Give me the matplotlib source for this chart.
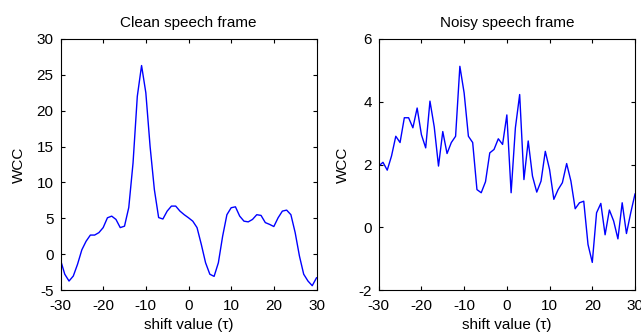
import numpy as np
import matplotlib.pyplot as plt

# shift values (tau), one sample per integer shift
shift = np.arange(-30, 31)

# WCC for the clean speech frame
wcc_clean = [
    -0.8, -2.8, -3.75, -3.05, -1.4, 0.6, 1.8, 2.66, 2.66, 3.0,
    3.7, 5.07, 5.3, 4.84, 3.7, 3.9, 6.5, 12.7, 22.0, 26.3,
    22.5, 15.0, 9.0, 5.1, 4.9, 6.0, 6.7, 6.7, 6.0, 5.5,
    5.07, 4.6, 3.7, 1.36, -1.2, -2.8, -3.1, -1.2, 2.5, 5.5,
    6.47, 6.6, 5.3, 4.6, 4.5, 4.84, 5.5, 5.4, 4.4, 4.15,
    3.85, 5.07, 6.0, 6.14, 5.5, 3.0, -0.26, -2.8, -3.75, -4.4,
    -3.3,
]

# WCC for the noisy speech frame
wcc_noisy = [
    1.95, 2.07, 1.82, 2.27, 2.9, 2.7, 3.49, 3.49, 3.17, 3.8,
    2.95, 2.53, 4.02, 3.2, 1.95, 3.05, 2.35, 2.7, 2.9, 5.13,
    4.28, 2.9, 2.7, 1.2, 1.1, 1.45, 2.37, 2.48, 2.82, 2.64,
    3.58, 1.1, 3.17, 4.23, 1.52, 2.75, 1.63, 1.12, 1.47, 2.42,
    1.84, 0.89, 1.2, 1.42, 2.03, 1.47, 0.59, 0.78, 0.83, -0.55,
    -1.12, 0.46, 0.76, -0.24, 0.55, 0.2, -0.37, 0.78, -0.2, 0.46,
    1.06,
]

panels = [
    ("Clean speech frame", wcc_clean, (-5, 30), [-5, 0, 5, 10, 15, 20, 25, 30], -0.135),
    ("Noisy speech frame", wcc_noisy, (-2, 6), [-2, 0, 2, 4, 6], -0.113),
]
xticks = [-30, -20, -10, 0, 10, 20, 30]

plt.rcParams['font.family'] = ['Liberation Sans', 'DejaVu Sans']
plt.rcParams['axes.unicode_minus'] = False

fig = plt.figure(figsize=(6.41, 3.35), dpi=100)
positions = [
    [60.5 / 641, 45 / 335, 256 / 641, 251 / 335],
    [378.7 / 641, 45 / 335, 256.3 / 641, 251 / 335],
]

for pos, (title, vals, ylim, yticks, ylab_x) in zip(positions, panels):
    ax = fig.add_axes(pos)
    ax.plot(shift, vals, color='#0000ff', linewidth=1.0)
    ax.set_xlim(-30, 30)
    ax.set_ylim(*ylim)
    ax.set_xticks(xticks)
    ax.set_yticks(yticks)
    ax.tick_params(direction='in', length=3, width=0.8, top=True, right=True,
                   labelsize=11)
    ax.tick_params(axis='x', pad=6.3)
    ax.tick_params(axis='y', pad=5)
    for sp in ax.spines.values():
        sp.set_linewidth(0.8)
    ax.set_title(title, fontsize=11, pad=8.4)
    ax.set_xlabel('shift value (\u03c4)', fontsize=11)
    ax.xaxis.set_label_coords(0.5, -0.1135)
    ax.set_ylabel('WCC', fontsize=11)
    ax.yaxis.set_label_coords(ylab_x, 0.5)

fig.savefig('out.png', dpi=100, facecolor='white')
